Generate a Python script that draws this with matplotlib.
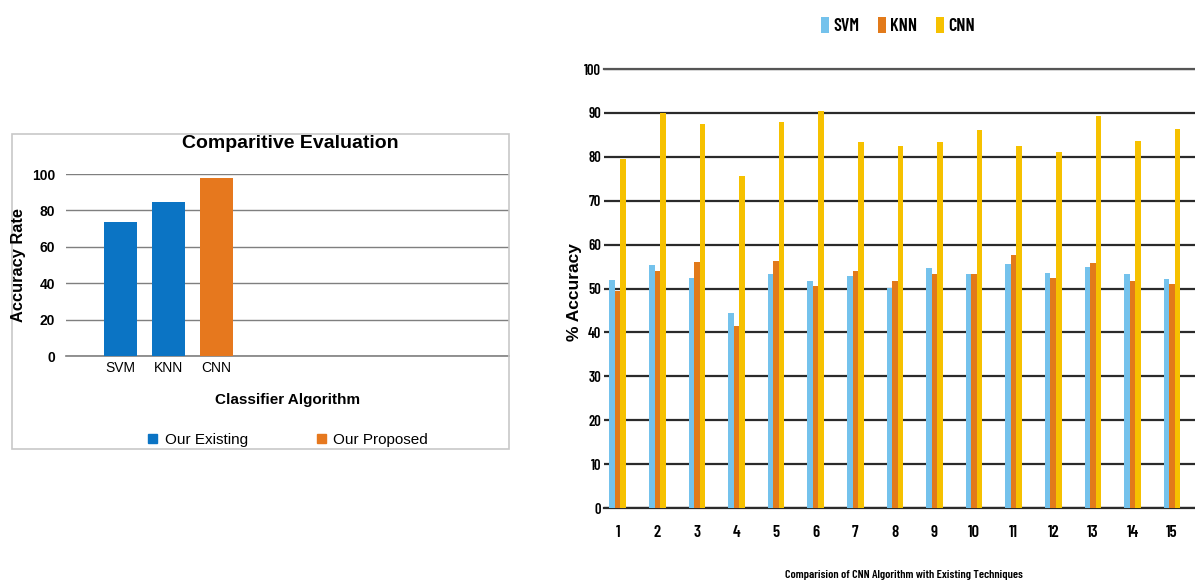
import matplotlib
matplotlib.use("Agg")
import matplotlib.pyplot as plt
import numpy as np
from matplotlib.patches import Rectangle
from matplotlib import font_manager as fm

# ---- data: comparative evaluation (left) ----
classifiers = ["SVM", "KNN", "CNN"]
accuracy_rate = [73.6, 84.8, 97.8]
series_kind = ["Our Existing", "Our Existing", "Our Proposed"]

# ---- data: per-technique accuracy (right) ----
groups = [str(i) for i in range(1, 16)]
svm_acc = [52.0, 55.4, 52.5, 44.5, 53.3, 51.8, 52.8, 50.2, 54.6, 53.3, 55.5, 53.6, 54.9, 53.3, 52.1]
knn_acc = [49.5, 54.1, 56.1, 41.4, 56.2, 50.5, 54.1, 51.7, 53.3, 53.3, 57.7, 52.4, 55.7, 51.7, 51.1]
cnn_acc = [79.5, 89.9, 87.4, 75.6, 87.9, 90.4, 83.3, 82.5, 83.3, 86.0, 82.5, 81.0, 89.4, 83.7, 86.3]

W, H = 1195, 586
fig = plt.figure(figsize=(W / 100, H / 100), dpi=100)

arial = ["Liberation Sans", "DejaVu Sans"]
narrow = ["Barlow Condensed", "DejaVu Sans"]
narrow_w = 600

def fx(px):
    return px / W

def fy(py):
    return 1 - py / H

# ---------------- left chart ----------------
blue = "#0B74C4"
orange = "#E6781E"
kind_color = {"Our Existing": blue, "Our Proposed": orange}

fig.patches.append(Rectangle((fx(12), fy(449)), fx(497), 315 / H,
                             transform=fig.transFigure, fill=False,
                             edgecolor="#c8c8c8", linewidth=1.2, zorder=0))

axL = fig.add_axes([fx(66), fy(356), fx(509 - 66), (356 - 174) / H])
x = np.arange(len(classifiers))
axL.bar(x, accuracy_rate, width=0.69,
        color=[kind_color[k] for k in series_kind], zorder=3)
axL.set_ylim(0, 100)
axL.set_xlim(-1.135, 8.09)
axL.set_yticks(range(0, 101, 20))
axL.yaxis.grid(True, color="#7f7f7f", linewidth=1.0, zorder=0)
axL.axhline(0, color="#7f7f7f", linewidth=1.2, zorder=2, clip_on=False)
for s in axL.spines.values():
    s.set_visible(False)
axL.tick_params(axis="both", length=0)
axL.tick_params(axis="y", pad=8)
axL.set_xticks(x)
axL.set_xticklabels(classifiers, family=arial, fontsize=10)
for lab in axL.get_yticklabels():
    lab.set_family(arial)
    lab.set_fontweight("bold")
    lab.set_fontsize(10)

fig.text(fx(290), fy(143), "Comparitive Evaluation", family=arial,
         fontweight="bold", fontsize=14, ha="center", va="center")
fig.text(fx(19), fy(265), "Accuracy Rate", family=arial, fontweight="bold",
         fontsize=11.8, rotation=90, ha="center", va="center")
fig.text(fx(288), fy(400), "Classifier Algorithm", family=arial,
         fontweight="bold", fontsize=11, ha="center", va="center")

hL = [Rectangle((0, 0), 1, 1, color=blue), Rectangle((0, 0), 1, 1, color=orange)]
fig.legend(hL, ["Our Existing", "Our Proposed"], loc="center",
           bbox_to_anchor=(fx(288), fy(440)), ncol=2, frameon=False,
           handlelength=0.6, handleheight=0.6, handletextpad=0.5,
           columnspacing=4.5, prop={"family": arial, "size": 11})

# ---------------- right chart ----------------
c_svm = "#74C2EC"
c_knn = "#E27A1A"
c_cnn = "#F6C100"

axR = fig.add_axes([fx(604), fy(508), 1 - fx(604), (508 - 69) / H])
pos = np.arange(1, len(groups) + 1)
bw = 0.14
axR.bar(pos - bw, svm_acc, width=bw, color=c_svm, label="SVM", zorder=3)
axR.bar(pos, knn_acc, width=bw, color=c_knn, label="KNN", zorder=3)
axR.bar(pos + bw, cnn_acc, width=bw, color=c_cnn, label="CNN", zorder=3)
axR.set_ylim(0, 100)
axR.set_xlim(0.654, 15.58)
axR.set_yticks(range(0, 101, 10))
axR.yaxis.grid(True, color="#2b2b2b", linewidth=1.6, zorder=0)
axR.axhline(0, color="#2b2b2b", linewidth=1.6, zorder=2, clip_on=False)
axR.axhline(100, color="#555555", linewidth=1.6, zorder=2, clip_on=False)
for s in axR.spines.values():
    s.set_visible(False)
axR.tick_params(axis="both", length=0)
axR.tick_params(axis="y", pad=2)
axR.tick_params(axis="x", pad=12)
axR.set_xticks(pos)
axR.set_xticklabels(groups)
for lab in axR.get_yticklabels():
    lab.set_family(narrow)
    lab.set_fontweight(narrow_w)
    lab.set_fontsize(10.5)
for lab in axR.get_xticklabels():
    lab.set_family(narrow)
    lab.set_fontweight(narrow_w)
    lab.set_fontsize(12)

fig.text(fx(575), fy(292), "% Accuracy", family=arial, fontweight="bold",
         fontsize=12.5, rotation=90, ha="center", va="center")
fig.text(fx(904), fy(575), "Comparision of CNN Algorithm with Existing Techniques",
         family=narrow, fontweight=narrow_w, fontsize=8.7, ha="center", va="center")

fig.legend(*axR.get_legend_handles_labels(), loc="center",
           bbox_to_anchor=(fx(898), fy(26)), ncol=3, frameon=False,
           handlelength=0.45, handleheight=1.0, handletextpad=0.25,
           columnspacing=1.0,
           prop=fm.FontProperties(family=narrow, weight=narrow_w, size=13))

fig.savefig("out.png", dpi=100)
